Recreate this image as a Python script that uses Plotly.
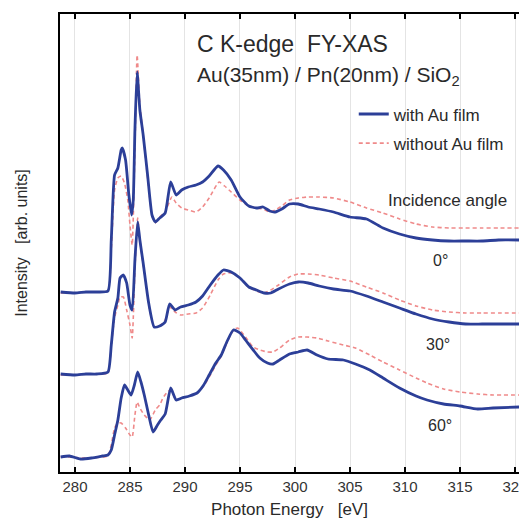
import plotly.graph_objects as go

# ---------------- data (photon energy in eV, intensity in arb. units, offsets included) -------------
e_0_au = [278.7, 280, 281, 282, 283, 283.3, 283.6, 283.9, 284.2, 284.3, 284.6, 284.9, 285.15, 285.3, 285.45,
          285.65, 285.9, 286.2, 286.6, 287.0, 287.3, 287.7, 288.2, 288.7, 289.2, 289.7, 290.3, 291, 291.6, 292.2,
          293, 293.5, 294.2, 295, 295.8, 296.5, 297.1, 297.7, 298.2, 298.8, 299.5, 300.3, 301.2, 302.2, 303.5,
          305, 306.5, 308, 309.5, 311, 312.5, 314, 315.5, 317, 318.5, 320.4]
i_0_au = [180, 179, 180, 180, 181, 232, 297, 304, 322, 324, 312, 277, 257, 272, 342,
          400, 362, 337, 297, 257, 250, 254, 259, 290, 277, 282, 285, 287, 290, 296,
          306, 302, 292, 275, 266, 264, 265, 261, 260, 263, 268, 268, 265, 263, 260,
          255, 253, 244, 238, 234, 232, 231, 231, 231, 232, 232]

e_0_no = [278.7, 280, 281, 282, 283, 283.3, 283.6, 283.9, 284.2, 284.5, 284.8, 285.0, 285.2, 285.45, 285.65,
          285.9, 286.2, 286.6, 287.0, 287.3, 287.7, 288.2, 288.8, 289.2, 289.7, 290.3, 291, 291.6, 292.2, 293.1,
          293.6, 294.2, 295, 295.8, 296.5, 297.1, 297.7, 298.2, 298.8, 299.5, 300.3, 301.2, 302.2, 303.5, 305,
          306.5, 308, 309.5, 311, 312.5, 314, 315.5, 317, 318.5, 320.4]
i_0_no = [179, 179, 180, 180, 181, 222, 282, 294, 296, 289, 272, 247, 227, 322, 417,
          367, 337, 294, 257, 249, 255, 260, 275, 269, 264, 262, 260, 265, 274, 290,
          286, 280, 272, 266, 264, 263, 260, 262, 266, 272, 274, 275, 275, 274, 270,
          264, 259, 253, 248, 245, 244, 244, 244, 244, 244]

e_30 = [278.7, 280, 281, 282, 283, 283.3, 283.6, 283.9, 284.1, 284.4, 284.7, 285.0, 285.2, 285.45, 285.7,
        285.9, 286.2, 286.7, 287.2, 287.7, 288.2, 288.6, 289.1, 289.6, 290.3, 291.0, 291.6, 292.3, 293.0, 293.5,
        294.2, 295.0, 295.8, 296.5, 297.2, 297.8, 298.5, 299.5, 300.3, 301.2, 302.2, 303.5, 305, 306.5, 308,
        309.5, 311, 312.5, 314, 315.5, 317, 318.5, 320.4]
i_30_au = [98, 97, 98, 98, 100, 127, 160, 174, 194, 197, 189, 167, 162, 212, 250,
           232, 209, 169, 145, 146, 150, 168, 162, 165, 167, 170, 176, 187, 197, 202,
           200, 194, 185, 182, 179, 179, 183, 188, 190, 189, 186, 183, 181, 176, 170,
           164, 158, 153, 150, 148, 148, 148, 148]
i_30_no = [97, 97, 98, 98, 99, 127, 154, 167, 175, 175, 162, 147, 134, 202, 254,
           232, 207, 167, 145, 146, 152, 165, 160, 157, 158, 159, 164, 177, 192, 198,
           199, 194, 185, 181, 179, 182, 187, 195, 198, 198, 197, 194, 191, 185, 179,
           172, 166, 162, 160, 159, 159, 159, 159]

e_60_au = [278.7, 279.5, 280.5, 281.5, 282.5, 283.0, 283.3, 283.6, 283.9, 284.2, 284.5, 284.8, 285.1, 285.4,
           285.7, 286.0, 286.3, 286.7, 287.1, 287.5, 287.8, 288.2, 288.7, 289.2, 289.7, 290.4, 291.1, 291.7,
           292.2, 292.8, 293.3, 293.8, 294.4, 295.0, 295.5, 296.2, 296.8, 297.5, 298.0, 298.6, 299.5, 300.3,
           301.1, 302.0, 303.0, 304.4, 305.5, 306.8, 308.0, 309.5, 311, 312.0, 313.5, 315, 316.6, 318.0, 320.4]
i_60_au = [15, 16, 13, 14, 16, 17, 22, 37, 52, 74, 87, 82, 77, 87, 100, 90, 77, 57, 40, 47, 52,
           58, 84, 72, 74, 76, 79, 87, 97, 109, 117, 130, 142, 139, 132, 122, 114, 109, 108, 112, 118,
           120, 122, 117, 113, 112, 108, 102, 94, 84, 76, 72, 68, 66, 63, 64, 65]

e_60_no = [278.7, 279.5, 280.5, 281.5, 282.5, 283.0, 283.3, 283.6, 283.9, 284.2, 284.6, 285.0, 285.2, 285.45,
           285.65, 285.9, 286.3, 286.8, 287.3, 287.7, 288.0, 288.4, 288.7, 289.2, 289.7, 290.4, 291.1, 291.7,
           292.2, 292.8, 293.3, 293.8, 294.4, 294.8, 295.5, 296.2, 296.8, 297.5, 298.0, 298.6, 299.5, 300.3,
           301.1, 302.0, 303.0, 304.4, 305.5, 306.8, 308.0, 309.5, 311, 312.0, 313.5, 315, 316.6, 318.0, 320.4]
i_60_no = [15, 15, 14, 14, 15, 16, 27, 44, 49, 49, 44, 37, 35, 57, 70, 64, 57, 52, 62, 67, 74,
           80, 82, 72, 74, 76, 79, 86, 95, 107, 116, 129, 142, 144, 135, 125, 122, 120, 120, 124, 132,
           135, 135, 134, 131, 127, 124, 117, 110, 102, 94, 89, 83, 80, 78, 77, 77]

x_ticks = [280, 285, 290, 295, 300, 305, 310, 315, 320]
angle_labels = ["0°", "30°", "60°"]
angle_label_pos = [(313.2, 212), (313.0, 128), (313.2, 47)]

BLUE = "#2c3f98"
RED = "#ef8a8a"
FONT = "Liberation Sans, Arial, sans-serif"
TXT = "#2a2a2a"

fig = go.Figure()

spectra = [
    (e_0_no, i_0_no, e_0_au, i_0_au),
    (e_30, i_30_no, e_30, i_30_au),
    (e_60_no, i_60_no, e_60_au, i_60_au),
]
for k, (en, inn, ea, ia) in enumerate(spectra):
    fig.add_trace(go.Scatter(x=en, y=inn, mode="lines", name="without Au film",
                             line=dict(color=RED, width=1.6, dash="4px,3px", shape="spline", smoothing=0.5),
                             showlegend=(k == 0), legendgroup="no", legendrank=2))
    fig.add_trace(go.Scatter(x=ea, y=ia, mode="lines", name="with Au film",
                             line=dict(color=BLUE, width=2.8, shape="spline", smoothing=0.5),
                             showlegend=(k == 0), legendgroup="au", legendrank=1))

annots = [
    dict(x=290.9, y=428, text="C K-edge  FY-XAS", font=dict(size=23, color=TXT), xanchor="left"),
    dict(x=290.9, y=396, text="Au(35nm) / Pn(20nm) / SiO<sub>2</sub>", font=dict(size=21, color=TXT),
         xanchor="left"),
    dict(x=308.3, y=272, text="Incidence angle", font=dict(size=17, color=TXT), xanchor="left"),
]
for lab, (ax, ay) in zip(angle_labels, angle_label_pos):
    annots.append(dict(x=ax, y=ay, text=lab, font=dict(size=16, color=TXT), xanchor="center"))
for a in annots:
    a.update(xref="x", yref="y", showarrow=False, yanchor="middle")

fig.update_layout(
    width=519, height=519,
    margin=dict(l=60, r=0, t=14, b=47, autoexpand=False),
    paper_bgcolor="white", plot_bgcolor="white",
    font=dict(family=FONT, color=TXT),
    annotations=annots,
    showlegend=True,
    legend=dict(x=0.64, y=0.82, xanchor="left", yanchor="top", bgcolor="rgba(0,0,0,0)",
                font=dict(size=17, color=TXT), traceorder="grouped", tracegroupgap=4,
                itemwidth=30),
    xaxis=dict(range=[278.64, 320.36], tickvals=x_ticks, ticks="inside", ticklen=5, tickwidth=1.5,
               tickcolor="black", showline=True, linecolor="black", linewidth=2, mirror="ticks",
               showgrid=True, gridcolor="#e4e4e4", gridwidth=1, zeroline=False,
               ticklabeloverflow="allow", automargin=False,
               tickfont=dict(size=15, color="#333333"),
               title=dict(text="Photon Energy   [eV]", font=dict(size=17, color=TXT), standoff=10)),
    yaxis=dict(range=[0, 458], showticklabels=False, ticks="", showline=True, linecolor="black",
               linewidth=2, showgrid=False, zeroline=False, automargin=False,
               title=dict(text="Intensity   [arb. units]", font=dict(size=16, color=TXT), standoff=26)),
)

fig.write_html("out.html")
